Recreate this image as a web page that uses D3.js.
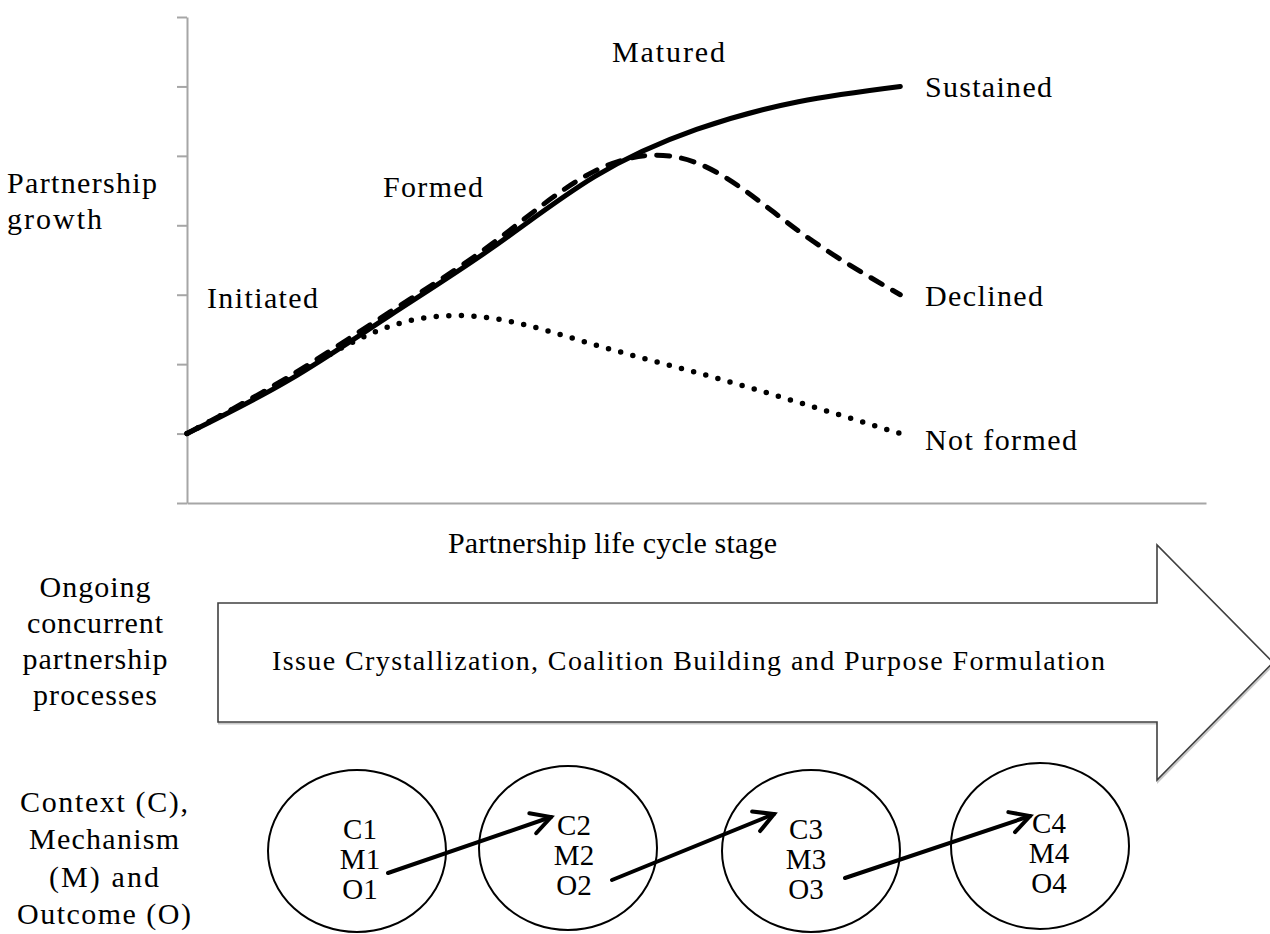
<!DOCTYPE html>
<html>
<head>
<meta charset="utf-8">
<script src="https://cdn.jsdelivr.net/npm/d3@7"></script>
<style>
  body { margin: 0; background: #fff; }
  text { font-family: "Liberation Serif", "Times New Roman", serif; fill: #000; }
</style>
</head>
<body>
<div id="graph1"></div>
<script>
// life cycle stage index (x) and partnership growth (y)
var stages = [0, 1, 2, 3, 4, 5, 6, 7]
var sustained = [1.0, 1.77, 2.71, 3.68, 4.70, 5.38, 5.78, 6.0]
var declined = [1.0, 1.82, 2.76, 3.74, 4.78, 4.90, 3.92, 3.0]
var notFormed = [1.0, 1.80, 2.55, 2.66, 2.28, 1.88, 1.45, 1.0]
var yTicks = [0, 1, 2, 3, 4, 5, 6, 7]
var stageLabels = ["Initiated", "Formed", "Matured"]
var endLabels = ["Sustained", "Declined", "Not formed"]
var cmoLabels = [["C1", "M1", "O1"], ["C2", "M2", "O2"], ["C3", "M3", "O3"], ["C4", "M4", "O4"]]

var width = 1270, height = 934

var svg = d3.select("#graph1").append("svg")
  .attr("width", width)
  .attr("height", height)

var xscale = d3.scaleLinear().domain([0, 10]).range([187, 1206])
var yscale = d3.scaleLinear().domain([0, 7]).range([503, 17])

// axes
var yAxis = svg.append("g")
  .attr("transform", "translate(" + xscale(0) + ",0)")
  .call(d3.axisLeft(yscale).tickValues(yTicks).tickSize(10).tickSizeOuter(0).tickFormat(""))
yAxis.selectAll("path,line").attr("stroke", "#a6a6a6").attr("stroke-width", 2)

var xAxis = svg.append("g")
  .attr("transform", "translate(0," + yscale(0) + ")")
  .call(d3.axisBottom(xscale).tickValues([]).tickSizeOuter(0))
xAxis.selectAll("path").attr("stroke", "#a6a6a6").attr("stroke-width", 2)

function label(t, x, y, w, size) {
  var el = svg.append("text")
    .attr("x", x).attr("y", y)
    .style("font-size", (size || 30) + "px")
    .text(t)
  if (w) el.attr("textLength", w).attr("lengthAdjust", "spacing")
  return el
}

// lines
var line = d3.line()
  .x(function(d) { return xscale(d[0]) })
  .y(function(d) { return yscale(d[1]) })
  .curve(d3.curveNatural)

function pts(vals) { return stages.map(function(s, i) { return [s, vals[i]] }) }

svg.append("path").datum(pts(sustained))
  .attr("d", line).attr("fill", "none").attr("stroke", "#000")
  .attr("stroke-width", 5).attr("stroke-linecap", "round")

svg.append("path").datum(pts(declined))
  .attr("d", line).attr("fill", "none").attr("stroke", "#000")
  .attr("stroke-width", 5).attr("stroke-linecap", "round")
  .attr("stroke-dasharray", "13 12")

svg.append("path").datum(pts(notFormed))
  .attr("d", line).attr("fill", "none").attr("stroke", "#000")
  .attr("stroke-width", 5.5).attr("stroke-linecap", "round")
  .attr("stroke-dasharray", "0 12.6")

// text in the chart
label("Partnership", 7, 193, 150)
label("growth", 7, 229, 95)
label(stageLabels[0], 207, 308, 111)
label(stageLabels[1], 383, 197, 100)
label(stageLabels[2], 612, 62, 113)
label(endLabels[0], 925, 97, 127)
label(endLabels[1], 925, 306, 118)
label(endLabels[2], 925, 450, 152)
label("Partnership life cycle stage", 448, 553, 329)

// left side labels
var leftA = [["Ongoing", 597, 111], ["concurrent", 633, 136], ["partnership", 669, 145], ["processes", 705, 124]]
leftA.forEach(function(d) {
  label(d[0], 95 - d[2] / 2, d[1], d[2])
})
var leftB = [["Context (C),", 812, 168], ["Mechanism", 849, 150], ["(M) and", 887, 110], ["Outcome (O)", 924, 174]]
leftB.forEach(function(d) {
  label(d[0], 104 - d[2] / 2, d[1], d[2])
})

// big process arrow
var ax0 = 218, ax1 = 1157, ay0 = 603, ay1 = 722, hy0 = 545, hy1 = 780, tipX = 1273
var arrowPath = d3.path()
arrowPath.moveTo(ax0, ay0)
arrowPath.lineTo(ax1, ay0)
arrowPath.lineTo(ax1, hy0)
arrowPath.lineTo(tipX, (ay0 + ay1) / 2)
arrowPath.lineTo(ax1, hy1)
arrowPath.lineTo(ax1, ay1)
arrowPath.lineTo(ax0, ay1)
arrowPath.closePath()
svg.append("path").attr("d", arrowPath.toString())
  .attr("fill", "none").attr("stroke", "#c8c8c8").attr("stroke-width", 2)
  .attr("transform", "translate(1,1.5)")
svg.append("path").attr("d", arrowPath.toString())
  .attr("fill", "#fff").attr("stroke", "#404040").attr("stroke-width", 1.6)
label("Issue Crystallization, Coalition Building and Purpose Formulation", 272, 670, 833, 28)

// context / mechanism / outcome ellipses
var ell = [[357, 851, 89, 81], [568, 848, 89, 82], [811, 851, 89, 81], [1040, 846, 89, 83]]
var txtX = [360, 574, 806, 1049]
var txtDy = [0, -4, 0, -6]
ell.forEach(function(e, i) {
  svg.append("ellipse")
    .attr("cx", e[0]).attr("cy", e[1]).attr("rx", e[2]).attr("ry", e[3])
    .attr("fill", "none").attr("stroke", "#000").attr("stroke-width", 2)
  cmoLabels[i].forEach(function(t, j) {
    svg.append("text")
      .attr("x", txtX[i]).attr("y", 839 + j * 30 + txtDy[i])
      .attr("text-anchor", "middle")
      .style("font-size", "29px")
      .text(t)
  })
})

// small arrows between ellipses
var links = [[388, 873, 551, 817], [612, 880, 774, 814], [845, 878, 1030, 816]]
links.forEach(function(a) {
  var ang = Math.atan2(a[3] - a[1], a[2] - a[0])
  var len = 22, spread = 0.5
  svg.append("line")
    .attr("x1", a[0]).attr("y1", a[1]).attr("x2", a[2]).attr("y2", a[3])
    .attr("stroke", "#000").attr("stroke-width", 4).attr("stroke-linecap", "round")
  var head = d3.path()
  head.moveTo(a[2] - len * Math.cos(ang - spread), a[3] - len * Math.sin(ang - spread))
  head.lineTo(a[2], a[3])
  head.lineTo(a[2] - len * Math.cos(ang + spread), a[3] - len * Math.sin(ang + spread))
  svg.append("path").attr("d", head.toString())
    .attr("fill", "none").attr("stroke", "#000").attr("stroke-width", 4)
    .attr("stroke-linecap", "round").attr("stroke-linejoin", "miter")
})
</script>
</body>
</html>
